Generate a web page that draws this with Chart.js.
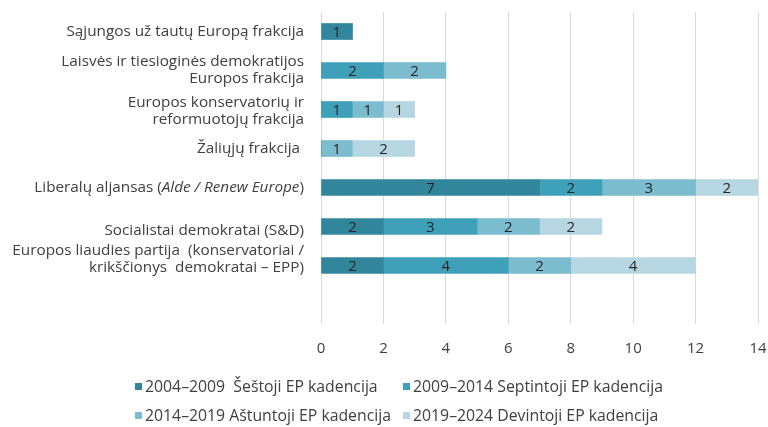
<!DOCTYPE html>
<html><head><meta charset="utf-8">
<script src="https://cdn.jsdelivr.net/npm/chart.js@4.4.1/dist/chart.umd.min.js"></script>
<style>html,body{margin:0;padding:0;background:#fff;}#wrap{position:relative;width:768px;height:427px;}</style>
</head><body><div id="wrap"><canvas id="c"></canvas></div>
<script>
const categories = [
  ['Sąjungos už tautų Europą frakcija'],
  ['Laisvės ir tiesioginės demokratijos', 'Europos frakcija'],
  ['Europos konservatorių ir', 'reformuotojų frakcija'],
  ['Žaliųjų frakcija '],
  ['Liberalų aljansas (*Alde / Renew Europe*)'],
  ['Socialistai demokratai (S&D)'],
  ['Europos liaudies partija  (konservatoriai /', 'krikščionys  demokratai – EPP)']
];
const seriesNames = [
  '2004–2009  Šeštoji EP kadencija',
  '2009–2014 Septintoji EP kadencija',
  '2014–2019 Aštuntoji EP kadencija',
  '2019–2024 Devintoji EP kadencija'
];
const term6 = [1, 0, 0, 0, 7, 2, 2];
const term7 = [0, 2, 1, 0, 2, 3, 4];
const term8 = [0, 2, 1, 1, 3, 2, 2];
const term9 = [0, 0, 1, 2, 2, 2, 4];
const xTicks = [0, 2, 4, 6, 8, 10, 12, 14];

const colors = ['#31869B', '#3FA0B9', '#7BBCCF', '#B6D6E2'];
const FONT = '"Open Sans", sans-serif';
const FS_LABEL = 15.3;
const FS_LEGEND = 15.8;
const FS_DATA = 15;
const TXT = '#404040';

const customPlugin = {
  id: 'custom',
  afterDraw(chart, args, opts) {
    const ctx = chart.ctx;
    const ys = chart.scales.y;
    const shift = opts.labelShift || [];
    ctx.save();
    ctx.fillStyle = TXT;
    ctx.textBaseline = 'middle';
    ctx.textAlign = 'left';
    const lh = 17;
    const rightX = 304;
    categories.forEach((lines, i) => {
      const cy = ys.getPixelForValue(i) + (shift[i] || 0);
      const y0 = cy - (lines.length - 1) * lh / 2;
      lines.forEach((line, j) => {
        const parts = line.split('*');
        let w = 0;
        parts.forEach((p, k) => { ctx.font = (k % 2 ? 'italic ' : '') + FS_LABEL + 'px ' + FONT; w += ctx.measureText(p).width; });
        let x = rightX - w;
        parts.forEach((p, k) => {
          ctx.font = (k % 2 ? 'italic ' : '') + FS_LABEL + 'px ' + FONT;
          ctx.fillText(p, x, y0 + j * lh);
          x += ctx.measureText(p).width;
        });
      });
    });
    // data labels
    ctx.font = FS_DATA + 'px ' + FONT;
    ctx.textAlign = 'center';
    ctx.fillStyle = '#262626';
    chart.data.datasets.forEach((ds, di) => {
      const meta = chart.getDatasetMeta(di);
      meta.data.forEach((el, i) => {
        const v = ds.data[i];
        if (!v) return;
        const p = el.getProps(['x', 'y', 'base'], true);
        ctx.fillText(String(v), (p.x + p.base) / 2, p.y + 1);
      });
    });
    // legend
    const cols = [135, 403], rows = [387, 416];
    ctx.textAlign = 'left';
    ctx.font = FS_LEGEND + 'px ' + FONT;
    seriesNames.forEach((name, i) => {
      const cx = cols[i % 2], ry = rows[Math.floor(i / 2)];
      ctx.fillStyle = colors[i];
      ctx.fillRect(cx, ry - 4, 7, 7);
      ctx.fillStyle = TXT;
      ctx.fillText(name, cx + 10, ry);
    });
    ctx.restore();
  }
};

new Chart(document.getElementById('c'), {
  type: 'bar',
  data: {
    labels: categories.map(c => c.join(' ')).concat(['']),
    datasets: [term6, term7, term8, term9].map((d, i) => ({
      label: seriesNames[i],
      data: d,
      backgroundColor: colors[i],
      borderWidth: 0,
      barThickness: 16
    }))
  },
  options: {
    indexAxis: 'y',
    responsive: true,
    maintainAspectRatio: false,
    animation: false,
    layout: { padding: { top: 12, right: 10, left: 0, bottom: 0 } },
    plugins: {
      legend: { display: false },
      tooltip: { enabled: false },
      custom: { labelShift: [0, 0, 1.5, 0, 0, 4, -6] }
    },
    scales: {
      x: {
        stacked: true, min: 0, max: 14,
        afterBuildTicks: s => { s.ticks = xTicks.map(v => ({ value: v })); },
        afterFit: s => { s.height = 103; s.paddingLeft = 0; s.paddingRight = 0; },
        grid: { color: '#d9d9d9', drawTicks: false },
        border: { display: false },
        ticks: { padding: 16, color: TXT, font: { family: FONT, size: 15 } }
      },
      y: {
        stacked: true,
        afterFit: s => { s.width = 321; s.paddingTop = 0; s.paddingBottom = 0; },
        grid: { display: false },
        border: { display: false },
        ticks: { display: false }
      }
    }
  },
  plugins: [customPlugin]
});
</script>
</body></html>
